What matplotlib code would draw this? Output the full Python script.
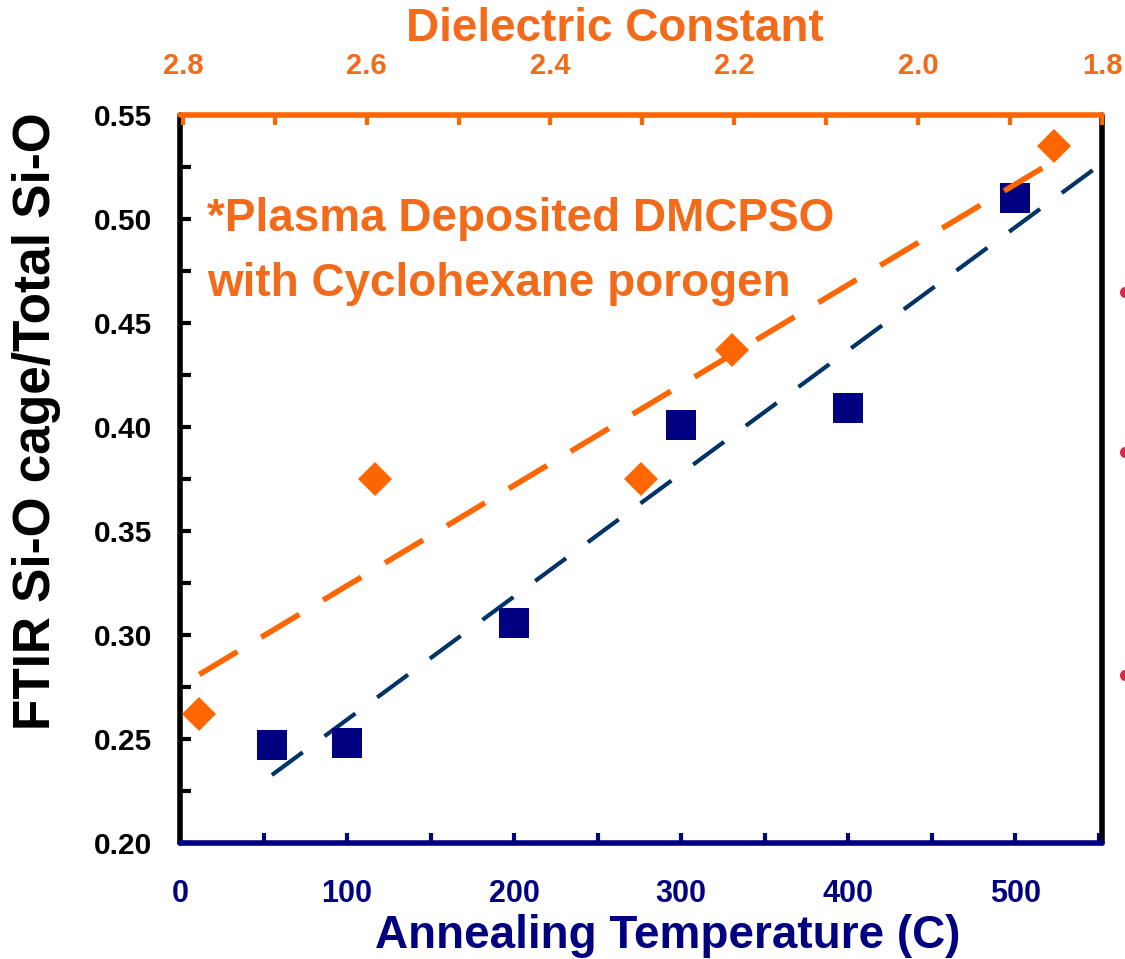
import numpy as np
import matplotlib
matplotlib.use("Agg")
import matplotlib.pyplot as plt
from matplotlib.lines import Line2D

# annealing temperature series (bottom axis)
temp = [55, 100, 200, 300, 400, 500]
cage_temp = [0.247, 0.248, 0.306, 0.401, 0.409, 0.510]

# dielectric constant series (top axis)
k_val = [2.782, 2.591, 2.302, 2.203, 1.852]
cage_k = [0.262, 0.375, 0.375, 0.437, 0.535]

k_ticks = [2.8, 2.6, 2.4, 2.2, 2.0, 1.8]
k_labels = ['2.8', '2.6', '2.4', '2.2', '2.0', '1.8']

orange = '#FF6600'
orange_txt = '#F26B1B'
navy = '#000080'
navy_line = '#003366'

plt.rcParams['font.family'] = ['Liberation Sans', 'DejaVu Sans']
plt.rcParams['font.weight'] = 'bold'
plt.rcParams['axes.labelweight'] = 'bold'

fig = plt.figure(figsize=(11.25, 9.59), dpi=100)
ax = fig.add_axes([0.16, 0.121, 0.8196, 0.759])
ax2 = ax.twiny()

# bottom axis: temperature
ax.plot(temp, cage_temp, ls='none', marker='s', ms=21, color=navy, mew=0, zorder=3)
p = np.polyfit(temp, cage_temp, 1)
xf = np.array([temp[0], 560])
ax.plot(xf, np.polyval(p, xf), color=navy_line, lw=3, dashes=(9.2, 6.5), zorder=2)
ax.set_xlim(0, 552)
ax.set_ylim(0.2, 0.55)

# top axis: dielectric constant
ax2.plot(k_val, cage_k, ls='none', marker='D', ms=17, color=orange, mew=0, zorder=3)
pk = np.polyfit(k_val, cage_k, 1)
kf = np.array([k_val[0], k_val[-1]])
ax2.plot(kf, np.polyval(pk, kf), color=orange, lw=4, dashes=(8, 5), zorder=2)
ax2.set_xlim(2.803, 1.8)

# ticks
ax.set_xticks(np.arange(0, 501, 100))
ax.set_xticks(np.arange(50, 551, 100), minor=True)
ax.set_yticks(np.arange(0.20, 0.551, 0.05))
ax.set_yticks(np.arange(0.225, 0.55, 0.05), minor=True)
ax.yaxis.set_major_formatter(matplotlib.ticker.FormatStrFormatter('%.2f'))
ax.tick_params(axis='x', which='both', direction='in', length=7, width=3, color=navy,
               labelcolor=navy, labelsize=22, pad=26, top=False)
ax.tick_params(axis='y', which='both', direction='in', length=8, width=3, color='black',
               labelsize=21.5, pad=20, right=False)

ax2.set_xticks(k_ticks)
ax2.set_xticklabels(k_labels)
ax2.set_xticks(np.arange(1.9, 2.8, 0.2), minor=True)
ax2.tick_params(axis='x', which='both', direction='in', length=7, width=3, color=orange,
                labelcolor=orange_txt, labelsize=21, pad=25)

# spines
for s in ax.spines.values():
    s.set_linewidth(4)
    s.set_capstyle('round')
ax.spines['bottom'].set_color(navy)
ax.spines['left'].set_color('black')
ax.spines['right'].set_color('black')
ax.spines['top'].set_visible(False)
for name, s in ax2.spines.items():
    if name == 'top':
        s.set_color(orange)
        s.set_linewidth(4)
        s.set_capstyle('round')
    else:
        s.set_visible(False)

# labels
ax.set_xlabel('Annealing Temperature (C)', fontsize=33, fontweight='bold', color=navy)
ax.xaxis.set_label_coords(0.529, -0.098)
ax.set_ylabel('FTIR Si-O cage/Total Si-O', fontsize=37, fontweight='bold', color='black')
ax.yaxis.set_label_coords(-0.129, 0.58)
ax2.set_xlabel('Dielectric Constant', fontsize=33, fontweight='bold', color=orange_txt)
ax2.xaxis.set_label_coords(0.472, 1.102)

ax.text(0.029, 0.887, '*Plasma Deposited DMCPSO\nwith Cyclohexane porogen',
        transform=ax.transAxes, fontsize=33, fontweight='bold', color=orange_txt,
        va='top', ha='left', linespacing=1.6)

# slide bullets bleeding in at the right edge
fig.add_artist(Line2D([1.0, 1.0, 1.0], [0.695, 0.529, 0.296], transform=fig.transFigure,
                      ls='none', marker='o', ms=8, color='#E3204E', mew=0))

fig.savefig('out.png', dpi=100)
